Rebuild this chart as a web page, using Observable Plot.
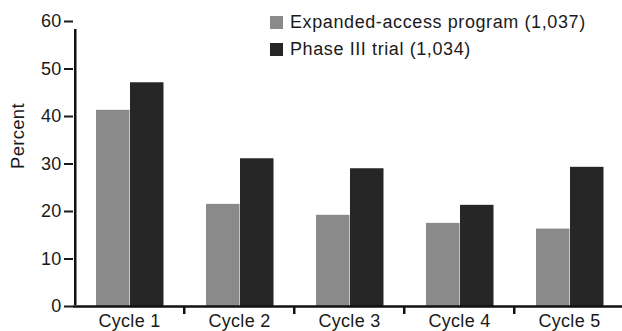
<!DOCTYPE html>
<html>
<head>
<meta charset="utf-8">
<script src="https://cdn.jsdelivr.net/npm/d3@7"></script>
<script src="https://cdn.jsdelivr.net/npm/@observablehq/plot@0.6"></script>
<style>
  html, body { margin: 0; padding: 0; background: #fff; }
  #wrap { position: relative; width: 622px; height: 331px; overflow: hidden; font-family: "Liberation Sans", Arial, sans-serif; }
  .legend { position: absolute; left: 270px; top: 9px; font-size: 18px; letter-spacing: 0.6px; color: #1a1a1a; line-height: 26.7px; }
  .legend div { display: flex; align-items: center; white-space: nowrap; }
  .legend span.sw { display: inline-block; width: 13px; height: 13px; margin-right: 7px; }
</style>
</head>
<body>
<div id="wrap"></div>
<script>
const cycles = ["Cycle 1", "Cycle 2", "Cycle 3", "Cycle 4", "Cycle 5"];
const seriesNames = ["Expanded-access program (1,037)", "Phase III trial (1,034)"];
const expanded = [41.3, 21.5, 19.2, 17.5, 16.3];
const phase3 = [47.1, 31.1, 29.0, 21.3, 29.3];
const seriesColors = ["#8a8a8a", "#262626"];
const yTicks = [0, 10, 20, 30, 40, 50, 60];

const rows1 = cycles.map((c, i) => ({cycle: c, value: expanded[i]}));
const rows2 = cycles.map((c, i) => ({cycle: c, value: phase3[i]}));

const bw = 110.5;
const plot = Plot.plot({
  width: 622,
  height: 331,
  marginLeft: 73,
  marginRight: 0,
  marginTop: 21,
  marginBottom: 25,
  style: {fontFamily: "'Liberation Sans', Arial, sans-serif", fontSize: "18px", letterSpacing: "0.3px", color: "#1a1a1a", background: "transparent", overflow: "visible"},
  x: {domain: cycles, range: [73, 73 + bw * 5], padding: 0, label: null},
  y: {domain: [0, 60], label: null},
  marks: [
    Plot.barY(rows1, {x: "cycle", y: "value", fill: seriesColors[0], insetLeft: 22, insetRight: bw - 22 - 34}),
    Plot.barY(rows2, {x: "cycle", y: "value", fill: seriesColors[1], insetLeft: 22 + 34, insetRight: bw - 22 - 68}),
    Plot.axisY({ticks: yTicks, tickSize: 9, tickPadding: 3, strokeWidth: 2, fontSize: 18, label: null}),
    Plot.axisX({tickSize: 0, tickPadding: 8, fontSize: 18, label: null}),
    Plot.ruleY([0], {stroke: "#111", strokeWidth: 2.5}),
    Plot.ruleX([cycles[0]], {y1: 0, y2: 60, dx: -bw / 2 + 1, stroke: "#111", strokeWidth: 2.5, insetBottom: -8, insetTop: -1}),
    Plot.ruleX(cycles.slice(1), {y1: 0, y2: 0, dx: -bw / 2, stroke: "#111", strokeWidth: 2.5, insetBottom: -8}),
    Plot.text(["Percent"], {frameAnchor: "left", dx: -55, dy: 5, rotate: -90, fontSize: 18.5, fill: "#1a1a1a", text: d => d})
  ]
});
const wrap = document.getElementById("wrap");
wrap.appendChild(plot);
const leg = document.createElement("div");
leg.className = "legend";
seriesNames.forEach((name, i) => {
  const row = document.createElement("div");
  const sw = document.createElement("span");
  sw.className = "sw";
  sw.style.background = seriesColors[i];
  row.appendChild(sw);
  row.appendChild(document.createTextNode(name));
  leg.appendChild(row);
});
wrap.appendChild(leg);
</script>
</body>
</html>
